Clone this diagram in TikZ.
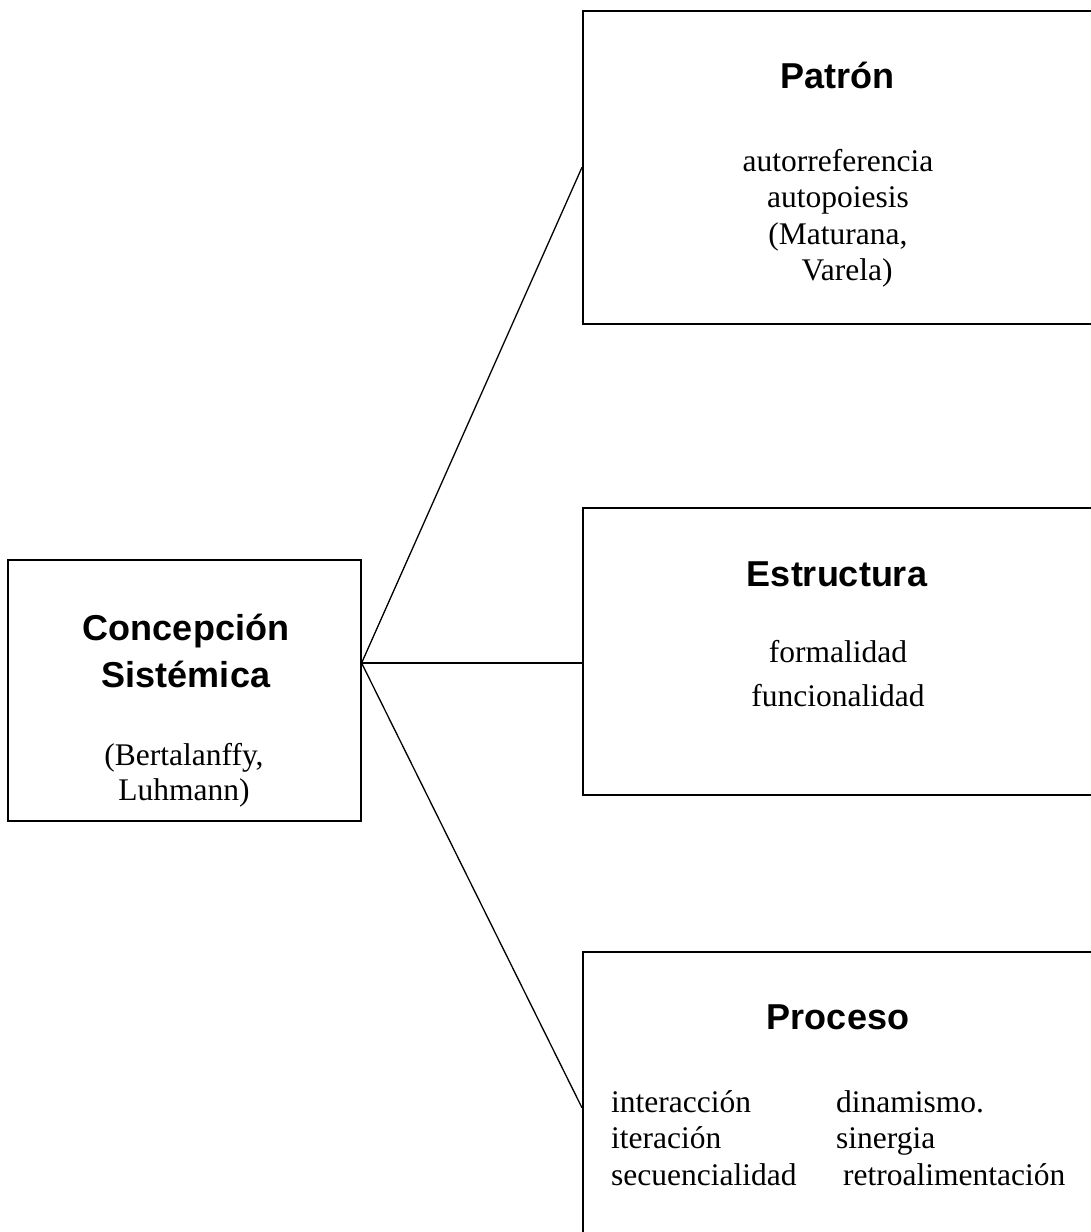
\documentclass[tikz,border=0pt]{standalone}
\usepackage{fontspec}
\setmainfont{Liberation Serif}
\setsansfont{Liberation Sans}
\tikzset{
  box/.style={draw=black, line width=1.6pt, rectangle, anchor=north west, inner sep=0pt},
  link/.style={draw=black, line width=1.3pt},
  ttl/.style={font=\sffamily\bfseries\fontsize{36}{42}\selectfont, anchor=base, inner sep=0pt},
  bodyc/.style={font=\fontsize{31.5}{36}\selectfont, anchor=base, inner sep=0pt},
  bodyl/.style={font=\fontsize{31.5}{36}\selectfont, anchor=base west, inner sep=0pt}
}
\begin{document}
\begin{tikzpicture}[x=1pt, y=-1pt]
\useasboundingbox (0,0) rectangle (1091,1232);
\clip (0,0) rectangle (1091,1232);
% boxes
\node[box, minimum width=353pt, minimum height=261pt] (concep) at (7,559) {};
\node[box, minimum width=512pt, minimum height=313pt] (patron) at (582,10) {};
\node[box, minimum width=512pt, minimum height=287pt] (estruct) at (582,507) {};
\node[box, minimum width=512pt, minimum height=312pt] (proceso) at (582,951) {};
% connectors
\coordinate (hub) at (concep.east |- 0,663);
\draw[link] (hub) -- (patron.west);
\draw[link] (hub) -- (hub -| estruct.west);
\draw[link] (hub) -- (proceso.west);
% Concepcion
\node[ttl] (c1) at (186,640) {Concepción};
\node[ttl] (c2) at (186,687) {Sistémica};
\node[bodyc] (c3) at (184,765) {(Bertalanffy,};
\node[bodyc] (c4) at (184,800) {Luhmann)};
% Patron
\node[ttl] (p0) at (837,88) {Patrón};
\node[bodyc] (p1) at (838,171) {autorreferencia};
\node[bodyc] (p2) at (838,207) {autopoiesis};
\node[bodyc] (p3) at (838,244) {(Maturana,};
\node[bodyc] (p4) at (847,280) {Varela)};
% Estructura
\node[ttl] (e0) at (837,586) {Estructura};
\node[bodyc] (e1) at (838,662) {formalidad};
\node[bodyc] (e2) at (838,706) {funcionalidad};
% Proceso
\node[ttl] (r0) at (838,1029) {Proceso};
\node[bodyl] (r1) at (611,1112) {interacción};
\node[bodyl] (r2) at (611,1148) {iteración};
\node[bodyl] (r3) at (611,1185) {secuencialidad};
\node[bodyl] (r4) at (836,1112) {dinamismo.};
\node[bodyl] (r5) at (836,1148) {sinergia};
\node[bodyl] (r6) at (843,1185) {retroalimentación};
\end{tikzpicture}
\end{document}
